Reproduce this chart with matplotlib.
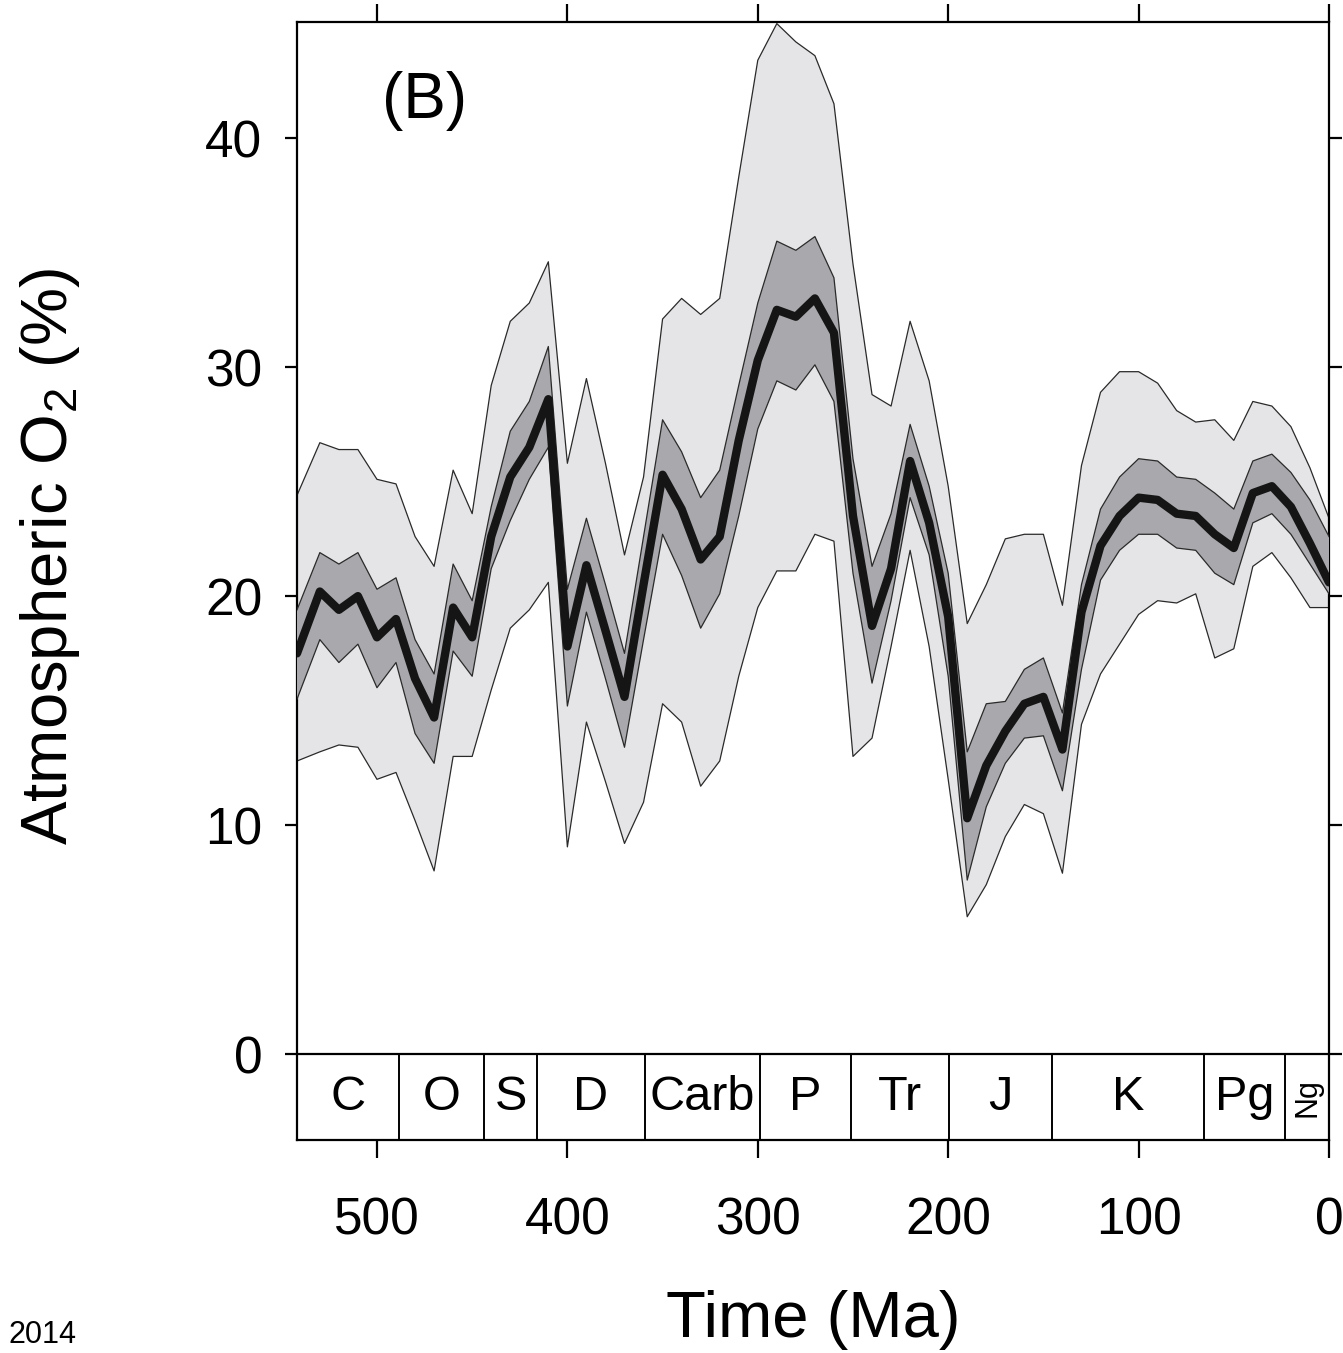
import matplotlib
matplotlib.use("Agg")
import matplotlib.pyplot as plt
import numpy as np

plt.rcParams['font.family'] = ['Liberation Sans', 'DejaVu Sans']
plt.rcParams['mathtext.fontset'] = 'custom'
plt.rcParams['mathtext.rm'] = 'Liberation Sans'
plt.rcParams['mathtext.it'] = 'Liberation Sans:italic'

# ---- data ----
age = [542, 530, 520, 510, 500, 490, 480, 470, 460, 450, 440, 430, 420, 410,
       400, 390, 380, 370, 360, 350, 340, 330, 320, 310, 300, 290, 280, 270,
       260, 250, 240, 230, 220, 210, 200, 190, 180, 170, 160, 150, 140, 130,
       120, 110, 100, 90, 80, 70, 60, 50, 40, 30, 20, 10, 0]
o2_mean = [17.5, 20.2, 19.4, 20.0, 18.2, 19.0, 16.4, 14.7, 19.5, 18.2, 22.6, 25.2, 26.5, 28.6,
           17.8, 21.35, 18.5, 15.6, 20.5, 25.3, 23.8, 21.6, 22.6, 26.8, 30.3, 32.5, 32.2, 33.0,
           31.5, 23.5, 18.7, 21.2, 25.9, 23.2, 19.1, 10.3, 12.6, 14.1, 15.3, 15.6, 13.3, 19.3,
           22.2, 23.5, 24.3, 24.2, 23.6, 23.5, 22.7, 22.1, 24.5, 24.8, 23.9, 22.3, 20.6]
o2_inner_hi = [19.4, 21.9, 21.4, 21.9, 20.3, 20.8, 18.1, 16.6, 21.4, 19.8, 23.9, 27.2, 28.5, 30.9,
               20.3, 23.4, 20.5, 17.5, 22.6, 27.7, 26.3, 24.3, 25.5, 29.2, 32.8, 35.5, 35.1, 35.7,
               33.9, 26.0, 21.3, 23.6, 27.5, 24.8, 21.0, 13.2, 15.3, 15.4, 16.8, 17.3, 14.9, 20.5,
               23.8, 25.2, 26.0, 25.9, 25.2, 25.1, 24.5, 23.8, 25.9, 26.2, 25.4, 24.2, 22.6]
o2_inner_lo = [15.5, 18.1, 17.1, 17.9, 16.0, 17.1, 14.0, 12.7, 17.6, 16.5, 21.2, 23.3, 25.1, 26.5,
               15.2, 19.3, 16.4, 13.4, 18.1, 22.7, 20.9, 18.6, 20.1, 23.5, 27.3, 29.4, 29.0, 30.1,
               28.5, 21.0, 16.2, 19.8, 24.3, 21.8, 16.5, 7.6, 10.8, 12.7, 13.8, 13.9, 11.5, 16.8,
               20.7, 22.0, 22.7, 22.7, 22.1, 22.0, 21.0, 20.5, 23.2, 23.6, 22.7, 21.4, 20.1]
o2_outer_hi = [24.4, 26.7, 26.4, 26.4, 25.1, 24.9, 22.6, 21.3, 25.5, 23.6, 29.2, 32.0, 32.8, 34.6,
               25.8, 29.5, 25.8, 21.8, 25.2, 32.1, 33.0, 32.3, 33.0, 38.3, 43.4, 45.0, 44.2, 43.6,
               41.5, 34.5, 28.8, 28.3, 32.0, 29.4, 24.8, 18.8, 20.5, 22.5, 22.7, 22.7, 19.6, 25.7,
               28.9, 29.8, 29.8, 29.3, 28.1, 27.6, 27.7, 26.8, 28.5, 28.3, 27.4, 25.6, 23.4]
o2_outer_lo = [12.8, 13.2, 13.5, 13.4, 12.0, 12.3, 10.2, 8.0, 13.0, 13.0, 15.9, 18.6, 19.4, 20.6,
               9.05, 14.5, 11.9, 9.2, 11.0, 15.3, 14.5, 11.7, 12.8, 16.5, 19.5, 21.1, 21.1, 22.7,
               22.4, 13.0, 13.8, 17.8, 22.0, 17.8, 12.0, 6.0, 7.4, 9.5, 10.9, 10.5, 7.9, 14.4,
               16.6, 17.9, 19.2, 19.8, 19.7, 20.1, 17.3, 17.7, 21.3, 21.9, 20.8, 19.5, 19.5]

period_bounds = [542, 488.3, 443.7, 416.0, 359.2, 299.0, 251.0, 199.6, 145.5, 65.5, 23.03, 0]
period_names = ['C', 'O', 'S', 'D', 'Carb', 'P', 'Tr', 'J', 'K', 'Pg', 'Ng']

x_ticks = [500, 400, 300, 200, 100, 0]
y_ticks = [0, 10, 20, 30, 40]

# ---- figure ----
W, H = 1343, 1353
fig = plt.figure(figsize=(W / 100, H / 100), dpi=100)
ax = fig.add_axes([297 / W, 1 - 1140 / H, (1329 - 297) / W, (1140 - 22) / H])

light = '#e5e5e7'
dark = '#a8a8ad'
edge = '#2a2a2a'

ax.fill_between(age, o2_outer_lo, o2_outer_hi, facecolor=light, edgecolor='none', zorder=1)
ax.plot(age, o2_outer_hi, color=edge, lw=0.9, zorder=2)
ax.plot(age, o2_outer_lo, color=edge, lw=0.9, zorder=2)
ax.fill_between(age, o2_inner_lo, o2_inner_hi, facecolor=dark, edgecolor='none', zorder=3)
ax.plot(age, o2_inner_hi, color=edge, lw=0.9, zorder=4)
ax.plot(age, o2_inner_lo, color=edge, lw=0.9, zorder=4)
ax.plot(age, o2_mean, color='#151515', lw=6, zorder=5,
        solid_joinstyle='round', solid_capstyle='round')

ymin, ymax = -3.75, 45.07
ax.set_xlim(542, 0)
ax.set_ylim(ymin, ymax)

# geologic period strip
ax.axhline(0, color='black', lw=1.6, zorder=6)
ax.vlines(period_bounds[1:-1], ymin, 0, color='black', lw=1.4, zorder=6)
for i, name in enumerate(period_names):
    xc = (period_bounds[i] + period_bounds[i + 1]) / 2
    if name == 'Ng':
        ax.text(xc, -1.9, name, ha='center', va='center', fontsize=22, rotation=90, zorder=7)
    else:
        ax.text(xc, -1.9, name, ha='center', va='center', fontsize=35, zorder=7)

ax.text(475, 41.6, '(B)', ha='center', va='center', fontsize=46)

ax.set_xticks(x_ticks)
ax.set_xticklabels([str(t) for t in x_ticks])
ax.set_yticks(y_ticks)
ax.set_yticklabels([str(t) for t in y_ticks])
for s in ax.spines.values():
    s.set_linewidth(1.6)
ax.tick_params(axis='x', direction='out', length=13, width=1.6, top=True, bottom=True,
               labelsize=37, pad=28)
ax.tick_params(axis='y', direction='out', length=9, width=1.6, left=True, right=True,
               labelsize=37, pad=16)

fig.text(813 / W, 1 - 1320 / H, 'Time (Ma)', ha='center', va='center', fontsize=47)
fig.text(50 / W, 1 - 557 / H, r'Atmospheric O$_\mathregular{2}$ (%)', ha='center', va='center',
         fontsize=47, rotation=90)
fig.text(8 / W, 1 - 1343 / H, '2014', ha='left', va='baseline', fontsize=22)

fig.savefig('out.png', dpi=100)
